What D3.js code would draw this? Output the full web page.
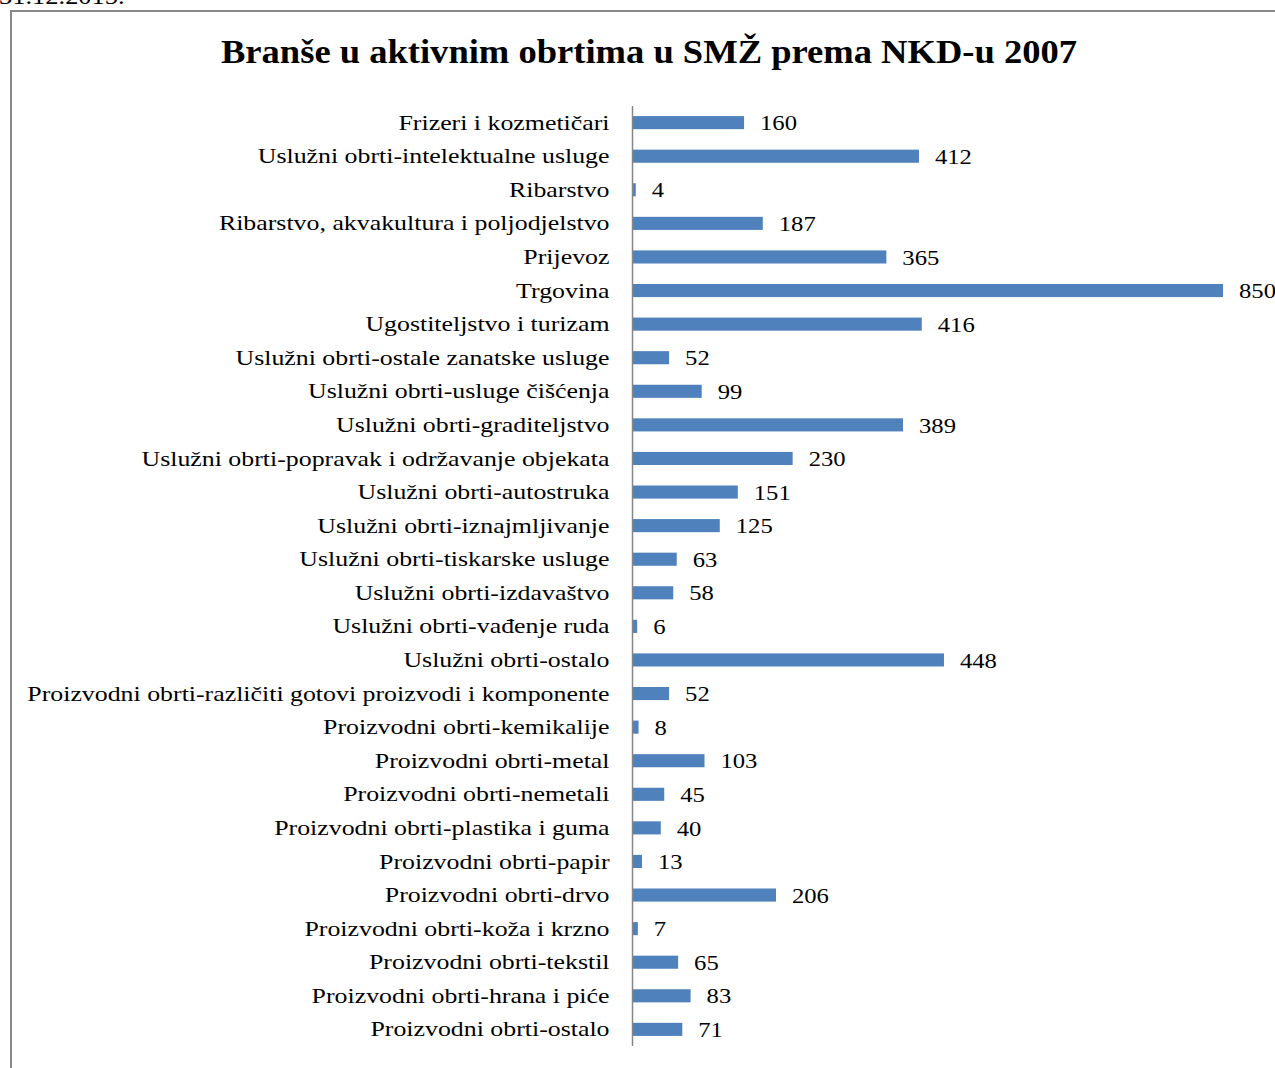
<!DOCTYPE html>
<html><head><meta charset="utf-8">
<script src="https://cdn.jsdelivr.net/npm/d3@7"></script>
<style>body{margin:0;background:#fff}svg{display:block}</style>
</head><body>
<script>
const categories = [
"Frizeri i kozmetičari","Uslužni obrti-intelektualne usluge","Ribarstvo","Ribarstvo, akvakultura i poljodjelstvo","Prijevoz","Trgovina","Ugostiteljstvo i turizam","Uslužni obrti-ostale zanatske usluge","Uslužni obrti-usluge čišćenja","Uslužni obrti-graditeljstvo","Uslužni obrti-popravak i održavanje objekata","Uslužni obrti-autostruka","Uslužni obrti-iznajmljivanje","Uslužni obrti-tiskarske usluge","Uslužni obrti-izdavaštvo","Uslužni obrti-vađenje ruda","Uslužni obrti-ostalo","Proizvodni obrti-različiti gotovi proizvodi i komponente","Proizvodni obrti-kemikalije","Proizvodni obrti-metal","Proizvodni obrti-nemetali","Proizvodni obrti-plastika i guma","Proizvodni obrti-papir","Proizvodni obrti-drvo","Proizvodni obrti-koža i krzno","Proizvodni obrti-tekstil","Proizvodni obrti-hrana i piće","Proizvodni obrti-ostalo"];
const values = [160,412,4,187,365,850,416,52,99,389,230,151,125,63,58,6,448,52,8,103,45,40,13,206,7,65,83,71];
const title = "Branše u aktivnim obrtima u SMŽ prema NKD-u 2007";
const topNote = "31.12.2015.";

const W=1275,H=1068;
const svg=d3.select("body").append("svg").attr("width",W).attr("height",H);
const font="'Liberation Serif','Times New Roman',serif";

function stretch(sel,f){
  sel.each(function(){
    const l=this.getComputedTextLength();
    d3.select(this).attr("textLength",l*f).attr("lengthAdjust","spacingAndGlyphs");
  });
}

const note=svg.append("text").attr("x",-1).attr("y",4).attr("font-family",font).attr("font-size",23).attr("fill","#000").text(topNote);
stretch(note,1.15);
svg.append("rect").attr("x",11).attr("y",11).attr("width",1300).attr("height",1100).attr("fill","none").attr("stroke","#888").attr("stroke-width",2);

const t=svg.append("text").attr("x",649).attr("y",63).attr("text-anchor","middle").attr("font-family",font).attr("font-weight","bold").attr("font-size",33).attr("fill","#000").text(title);
t.attr("textLength",856).attr("lengthAdjust","spacingAndGlyphs");

const x=d3.scaleLinear().domain([0,850]).range([633,1223]);
const y=d3.scaleBand().domain(categories).range([106,1046]).paddingInner(0.61).paddingOuter(0.3);

svg.selectAll("rect.bar").data(values).join("rect").attr("class","bar")
 .attr("x",x(0)).attr("y",(d,i)=>y(categories[i])).attr("width",d=>x(d)-x(0)).attr("height",y.bandwidth())
 .attr("fill","#4f81bd");

const ax=svg.append("g").attr("transform",`translate(${x(0)-0.5},0)`).call(d3.axisLeft(y).tickSize(0).tickPadding(23));
ax.select(".domain").attr("stroke","#868686").attr("stroke-width",1.5).attr("d","M0,106V1046");
const lab=ax.selectAll("text").attr("font-family",font).attr("font-size",22).attr("fill","#000");
stretch(lab,1.175);

const vals=svg.selectAll("text.val").data(values).join("text").attr("class","val")
 .attr("x",d=>x(d)+16).attr("y",(d,i)=>y(categories[i])+y.bandwidth()/2).attr("dy","0.35em")
 .attr("font-family",font).attr("font-size",22).attr("fill","#000").text(d=>d);
stretch(vals,1.12);
</script>
</body></html>
